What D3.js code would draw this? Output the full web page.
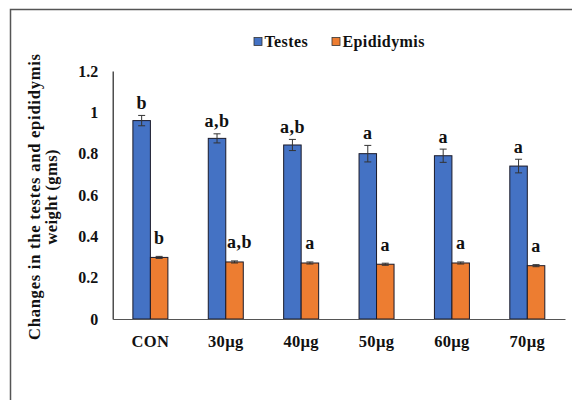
<!DOCTYPE html>
<html><head><meta charset="utf-8">
<script src="https://cdn.jsdelivr.net/npm/d3@7"></script>
<style>body{margin:0;background:#fff}svg{display:block}text{font-family:"Liberation Serif","Times New Roman",serif;font-weight:bold}</style>
</head><body><svg id="c" width="572" height="400"></svg>
<script>
const categories = ["CON","30\u00b5g","40\u00b5g","50\u00b5g","60\u00b5g","70\u00b5g"];
const seriesNames = ["Testes","Epididymis"];
const testes = [0.96,0.874,0.842,0.80,0.79,0.74];
const testesErr = [0.025,0.022,0.027,0.04,0.032,0.033];
const testesLabels = ["b","a,b","a,b","a","a","a"];
const epid = [0.298,0.276,0.271,0.265,0.271,0.258];
const epidErr = [0.005,0.005,0.005,0.005,0.005,0.005];
const epidLabels = ["b","a,b","a","a","a","a"];
const yTicks = [0,0.2,0.4,0.6,0.8,1,1.2];
const colors = ["#4472C4","#ED7D31"];

const svg = d3.select("#c");
svg.append("rect").attr("x",10.5).attr("y",9.5).attr("width",600).attr("height",500)
  .attr("fill","none").attr("stroke","#555").attr("stroke-width",1.5);

const x0 = 112.7, x1 = 565, yTop = 71, yBot = 319;
const x = d3.scaleBand().domain(categories).range([x0,x1]);
const y = d3.scaleLinear().domain([0,1.2]).range([yBot,yTop]);
const bw = 17.5;
const data = [
  {vals:testes, err:testesErr, labels:testesLabels, off:-bw},
  {vals:epid, err:epidErr, labels:epidLabels, off:0}
];

const yAxis = svg.append("g").attr("transform",`translate(${x0},0)`)
  .call(d3.axisLeft(y).tickValues(yTicks).tickSize(0).tickPadding(14.5).tickFormat(d=>d3.format("")(d)));
yAxis.select(".domain").attr("stroke","#222").attr("stroke-width",1.2);
yAxis.selectAll("text").attr("font-family",null).attr("font-size",16).attr("fill","#111");

data.forEach((s,si)=>{
  const g = svg.append("g");
  categories.forEach((c,i)=>{
    const cx = x(c)+x.bandwidth()/2 + s.off;
    g.append("rect").attr("x",cx).attr("y",y(s.vals[i])).attr("width",bw)
      .attr("height",y(0)-y(s.vals[i])).attr("fill",colors[si]).attr("stroke","#1a1a2a").attr("stroke-width",1);
    const mx = cx+bw/2;
    const hi = y(s.vals[i]+s.err[i]), lo = y(s.vals[i]-s.err[i]);
    g.append("line").attr("x1",mx).attr("x2",mx).attr("y1",hi).attr("y2",lo).attr("stroke","#333").attr("stroke-width",1);
    [hi,lo].forEach(v=>g.append("line").attr("x1",mx-3.5).attr("x2",mx+3.5).attr("y1",v).attr("y2",v).attr("stroke","#333").attr("stroke-width",1));
    const ly = si===0 ? hi-6.5 : y(s.vals[i])-13.5;
    g.append("text").attr("x",mx+(si===1&&s.labels[i].length>1?5:0)).attr("y",ly).attr("text-anchor","middle")
      .attr("font-size",18).attr("letter-spacing",0.5).attr("fill","#111").text(s.labels[i]);
  });
});

const xAxis = svg.append("g").attr("transform",`translate(0,${yBot})`)
  .call(d3.axisBottom(x).tickSize(0).tickPadding(16));
xAxis.select(".domain").attr("stroke","#555").attr("stroke-width",1.2);
xAxis.selectAll("text").attr("font-family",null).attr("font-size",16.5).attr("letter-spacing",0.3).attr("fill","#111");

const t = svg.append("text").attr("transform","translate(40,197) rotate(-90)").attr("text-anchor","middle")
  .attr("font-size",16.5).attr("fill","#111");
t.append("tspan").attr("x",0).attr("y",0).attr("textLength",286).attr("lengthAdjust","spacing").text("Changes in the testes and epididymis");
t.append("tspan").attr("x",0).attr("y",17).attr("textLength",95).attr("lengthAdjust","spacing").text("weight (gms)");

const leg = [{x:254,n:seriesNames[0],c:colors[0]},{x:332,n:seriesNames[1],c:colors[1]}];
leg.forEach(l=>{
  svg.append("rect").attr("x",l.x).attr("y",37.5).attr("width",8).attr("height",8).attr("fill",l.c).attr("stroke","#333").attr("stroke-width",0.8);
  svg.append("text").attr("x",l.x+10.5).attr("y",46.5).attr("font-size",16).attr("letter-spacing",0.4).attr("fill","#111").text(l.n);
});
</script></body></html>
